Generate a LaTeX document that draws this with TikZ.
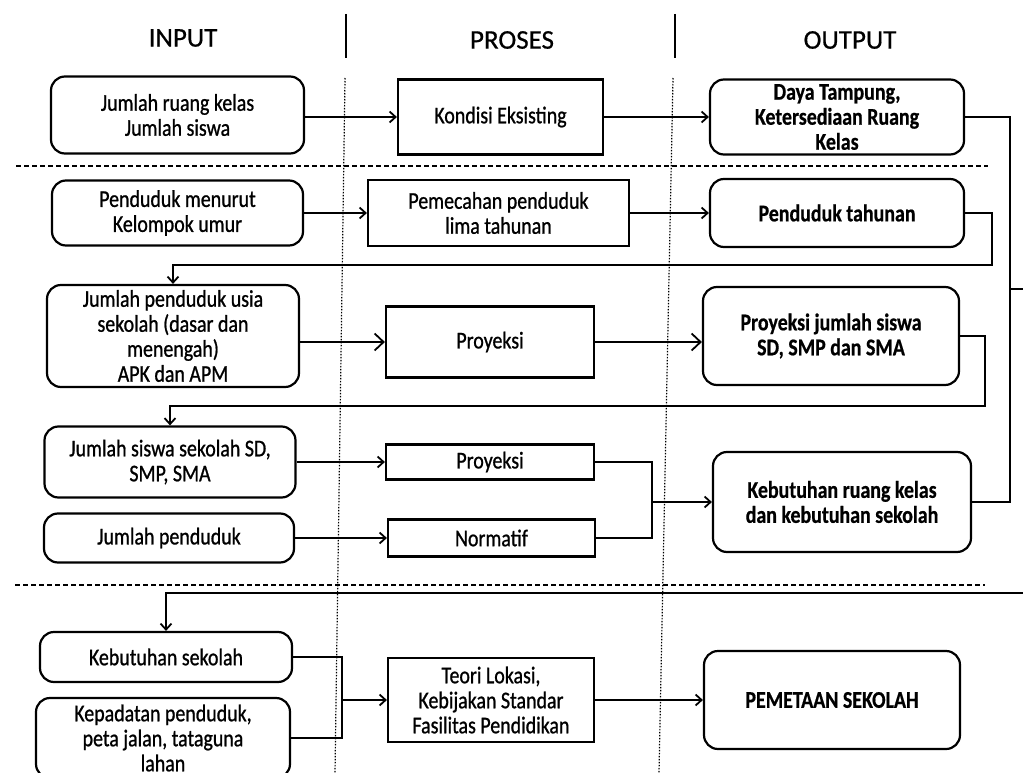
\documentclass[tikz,border=0pt]{standalone}
\usepackage{fontspec}
\setmainfont{Carlito}[FakeStretch=0.83, UprightFeatures={FakeBold=0.9}, BoldFeatures={FakeBold=0.6}]
\newfontfamily\headfont{Carlito}[FakeBold=0.6]
\usetikzlibrary{arrows.meta}

\begin{document}
\begin{tikzpicture}[x=1pt, y=-1pt,
  inbox/.style={draw, line width=2.2pt, rounded corners=14pt, align=center, inner sep=0pt, font=\fontsize{24}{25}\selectfont},
  prbox/.style={draw, line width=2.2pt, align=center, inner sep=0pt, font=\fontsize{24}{25}\selectfont},
  outbox/.style={inbox, font=\fontsize{24}{25}\selectfont\bfseries},
  head/.style={font=\headfont\fontsize{27}{32}\selectfont},
  link/.style={line width=1.8pt},
  arr/.style={link, -{Straight Barb[length=6pt,width=11pt]}},
  bigarr/.style={link, -{Straight Barb[length=9pt,width=17pt]}},
  sep/.style={line width=1.4pt},
  rowsep/.style={line width=1.8pt, dash pattern=on 5pt off 3pt},
  colsep/.style={line width=1.2pt, dash pattern=on 1.5pt off 1.5pt}]
\useasboundingbox (0,0) rectangle (1023,773);
\node[head] (hin) at (183,38) {INPUT};
\node[head] (hpr) at (512,40) {PROSES};
\node[head] (hout) at (850,40) {OUTPUT};
\draw[sep] (346,14) -- (346,58);
\draw[sep] (675,14) -- (675,58);
\draw[colsep] (345,78) -- (335,773);
\draw[colsep] (673,78) -- (659,773);
\draw[rowsep] (16,166) -- (988,166);
\draw[rowsep] (15,585) -- (985,585);
\node[inbox, minimum width=253pt, minimum height=77pt] (kelas) at (177.5,115) {Jumlah ruang kelas\\Jumlah siswa};
\node[prbox, minimum width=205pt, minimum height=75pt] (eksis) at (500.5,117) {Kondisi Eksisting};
\node[outbox, minimum width=254pt, minimum height=75pt] (tampung) at (837,117) {Daya Tampung,\\Ketersediaan Ruang\\Kelas};
\draw[arr] (kelas.east |- eksis.west) -- (eksis.west);
\draw[arr] (eksis) -- (tampung);
\node[inbox, minimum width=251pt, minimum height=65pt] (umur) at (177.5,213) {Penduduk menurut\\Kelompok umur};
\node[prbox, minimum width=261pt, minimum height=66pt] (pecah) at (498.5,213) {Pemecahan penduduk\\lima tahunan};
\node[outbox, minimum width=254pt, minimum height=68pt] (tahunan) at (837,213) {Penduduk tahunan};
\draw[arr] (umur) -- (pecah);
\draw[arr] (pecah) -- (tahunan);
\node[inbox, minimum width=252pt, minimum height=102pt] (usia) at (173,336) {Jumlah penduduk usia\\sekolah (dasar dan\\menengah)\\APK dan APM};
\node[prbox, minimum width=208pt, minimum height=71pt] (proy) at (490,342) {Proyeksi};
\node[outbox, minimum width=256pt, minimum height=98pt] (proysiswa) at (831,336) {Proyeksi jumlah siswa\\SD, SMP dan SMA};
\draw[bigarr] (usia.east |- proy.west) -- (proy.west);
\draw[bigarr] (proy.east) -- (proysiswa.west |- proy.east);
\node[inbox, minimum width=251pt, minimum height=71pt] (siswa) at (170,462) {Jumlah siswa sekolah SD,\\SMP, SMA};
\node[prbox, minimum width=208pt, minimum height=35pt] (proyb) at (490,462) {Proyeksi};
\node[inbox, minimum width=250pt, minimum height=49pt] (penduduk) at (169,538) {Jumlah penduduk};
\node[prbox, minimum width=207pt, minimum height=37pt] (norma) at (491.5,538) {Normatif};
\node[outbox, minimum width=258pt, minimum height=100pt] (kebutuhan) at (842,502) {Kebutuhan ruang kelas\\dan kebutuhan sekolah};
\draw[arr] (siswa) -- (proyb);
\draw[arr] (penduduk) -- (norma);
\coordinate (j1) at (652,502);
\draw[link] (proyb.east) -| (j1) |- (norma.east);
\draw[arr] (j1) -- (kebutuhan.west);
\node[inbox, minimum width=252pt, minimum height=50pt] (butuh) at (166,657) {Kebutuhan sekolah};
\node[inbox, minimum width=254pt, minimum height=80pt] (padat) at (163,738) {Kepadatan penduduk,\\peta jalan, tataguna\\lahan};
\node[prbox, minimum width=206pt, minimum height=84pt] (teori) at (491,700) {Teori Lokasi,\\Kebijakan Standar\\Fasilitas Pendidikan};
\node[outbox, minimum width=256pt, minimum height=98pt] (pemetaan) at (832,700) {PEMETAAN SEKOLAH};
\coordinate (j2) at (342,700);
\draw[link] (butuh.east) -| (j2) |- (padat.east);
\draw[arr] (j2) -- (teori.west);
\draw[arr] (teori) -- (pemetaan);
\coordinate (fb1) at (992,265);
\draw[arr] (tahunan.east) -| (fb1) -| (usia.north);
\coordinate (fb2) at (985,406);
\draw[arr] (proysiswa.east) -| (fb2) -| (siswa.north);
\coordinate (fb3) at (1010,300);
\draw[link] (tampung.east) -| (fb3) |- (kebutuhan.east);
\coordinate (st1) at (1011,289);
\coordinate (st2) at (1030,289);
\draw[link] (st1) -- (st2);
\coordinate (fb4) at (1030,593);
\draw[arr] (fb4) -| (butuh.north);
\end{tikzpicture}
\end{document}
